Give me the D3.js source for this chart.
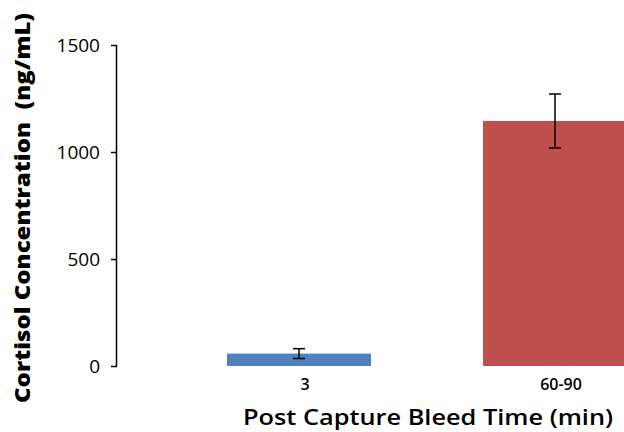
<!DOCTYPE html>
<html><head><meta charset="utf-8">
<script src="https://cdn.jsdelivr.net/npm/d3@7"></script>
<style>body{margin:0;background:#fff}</style>
</head><body>
<svg id="c" width="624" height="432"></svg>
<script>
const categories = ["3", "60-90"];
const means = [58, 1145];
const errors = [23, 126];
const colors = ["#4F81BD", "#C0504D"];
const yTicks = [0, 500, 1000, 1500];

const svg = d3.select("#c");
const font = "'Open Sans', Lato, sans-serif";

const y = d3.scaleLinear().domain([0, 1500]).range([366, 45]);
const x = d3.scaleBand().domain(categories).range([171, 683])
  .paddingInner(0.4375).paddingOuter(0.21875);

// bars
svg.selectAll("rect.bar").data(categories).join("rect")
  .attr("class", "bar")
  .attr("x", d => x(d))
  .attr("width", x.bandwidth())
  .attr("y", (d, i) => y(means[i]))
  .attr("height", (d, i) => y(0) - y(means[i]))
  .attr("fill", (d, i) => colors[i]);

// error bars
const eg = svg.selectAll("g.err").data(categories).join("g")
  .attr("class", "err")
  .attr("stroke", "#000").attr("stroke-width", 1.5);
eg.append("line")
  .attr("x1", d => x(d) + x.bandwidth() / 2).attr("x2", d => x(d) + x.bandwidth() / 2)
  .attr("y1", (d, i) => y(means[i] + errors[i])).attr("y2", (d, i) => y(means[i] - errors[i]));
[1, -1].forEach(s => {
  eg.append("line")
    .attr("x1", d => x(d) + x.bandwidth() / 2 - 6).attr("x2", d => x(d) + x.bandwidth() / 2 + 6)
    .attr("y1", (d, i) => y(means[i] + s * errors[i])).attr("y2", (d, i) => y(means[i] + s * errors[i]));
});

// y axis
const yAxis = svg.append("g").attr("transform", "translate(117,0)")
  .call(d3.axisLeft(y).tickValues(yTicks).tickSize(6).tickPadding(11).tickFormat(d3.format("d")));
yAxis.select(".domain").attr("d", `M-0.5,${y(1500)}V${y(0)}`).attr("stroke", "#000").attr("stroke-width", 1.5);
yAxis.selectAll(".tick line").attr("stroke", "#000").attr("stroke-width", 1.5);
yAxis.selectAll(".tick text").attr("font-family", font).attr("font-size", 19).attr("fill", "#000");

// x labels
svg.selectAll("text.xl").data(categories).join("text")
  .attr("class", "xl")
  .attr("x", d => x(d) + x.bandwidth() / 2 + 6)
  .attr("y", 390)
  .attr("text-anchor", "middle")
  .attr("font-family", font).attr("font-weight", "600").attr("font-size", 16)
  .text(d => d);

// axis titles
svg.append("text")
  .attr("x", 428).attr("y", 425)
  .attr("text-anchor", "middle")
  .attr("font-family", font).attr("font-weight", "600").attr("font-size", 22)
  .attr("textLength", 370).attr("lengthAdjust", "spacingAndGlyphs")
  .text("Post Capture Bleed Time (min)");

svg.append("text")
  .attr("transform", "translate(30,208) rotate(-90)")
  .attr("text-anchor", "middle")
  .attr("font-family", font).attr("font-weight", "800").attr("font-size", 21)
  .attr("textLength", 390).attr("lengthAdjust", "spacingAndGlyphs")
  .style("white-space", "pre")
  .text("Cortisol Concentration  (ng/mL)");
</script>
</body></html>
